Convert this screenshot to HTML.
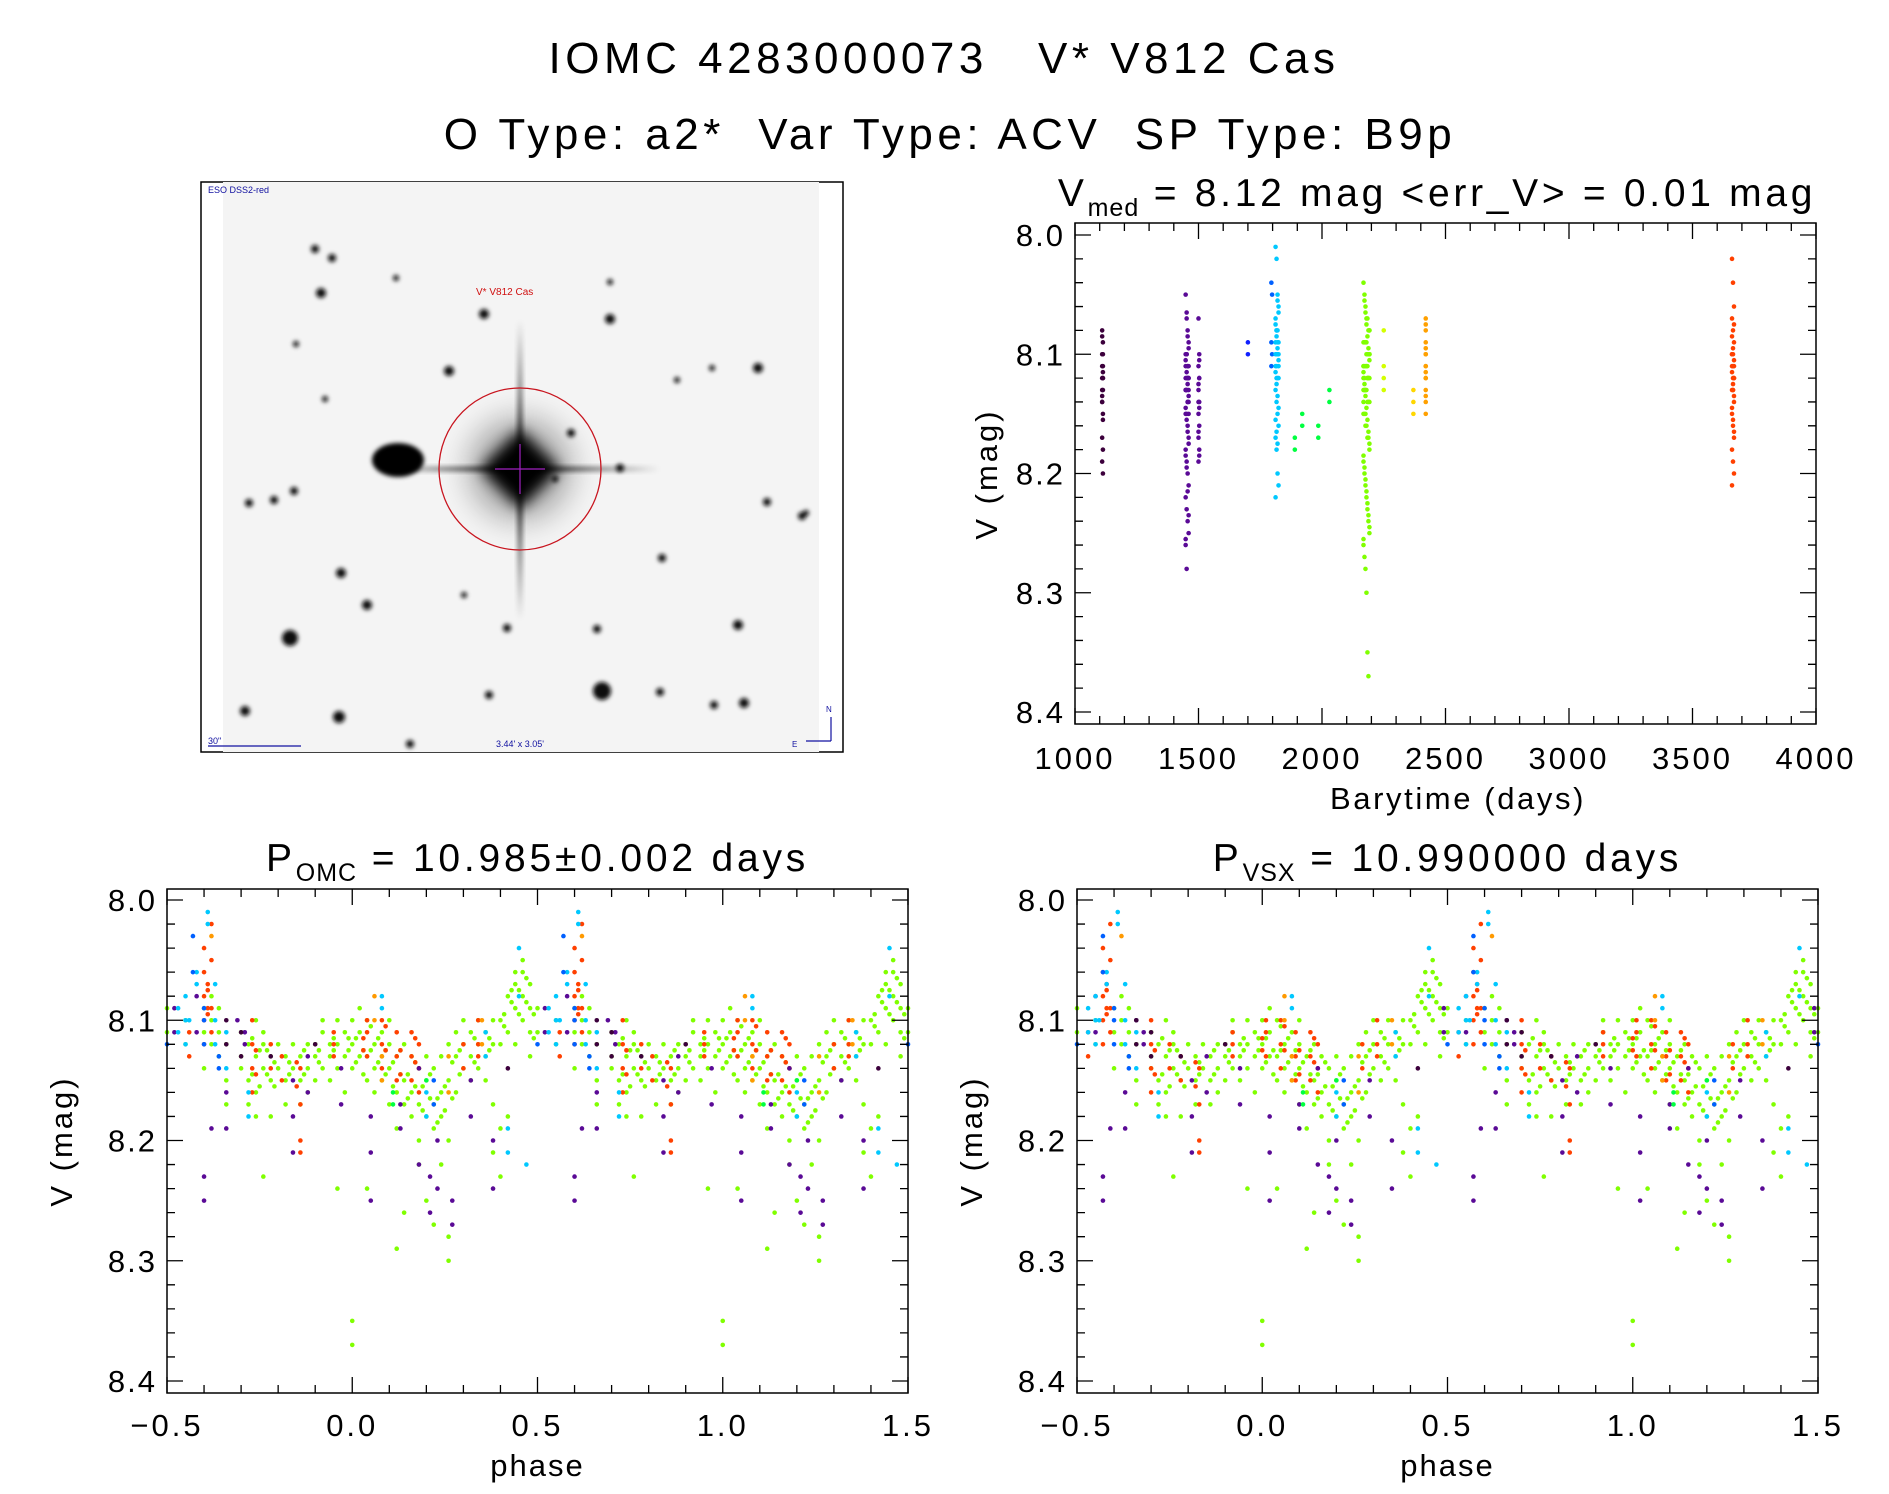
<!DOCTYPE html>
<html><head><meta charset="utf-8"><title>IOMC 4283000073 V* V812 Cas</title>
<style>
html,body{margin:0;padding:0;background:#fff;}
svg{display:block;font-family:"Liberation Sans",sans-serif;}
</style></head>
<body>
<svg id="fig" width="1889" height="1494" viewBox="0 0 1889 1494" xmlns="http://www.w3.org/2000/svg">
<defs>
  <filter id="blur2" x="-50%" y="-50%" width="200%" height="200%"><feGaussianBlur stdDeviation="2.2"/></filter>
  <filter id="blur6" x="-50%" y="-50%" width="200%" height="200%"><feGaussianBlur stdDeviation="7"/></filter>
  <filter id="blur14" x="-50%" y="-50%" width="200%" height="200%"><feGaussianBlur stdDeviation="16"/></filter>
  <linearGradient id="spikeH" x1="0" x2="1" y1="0" y2="0">
    <stop offset="0" stop-color="#000" stop-opacity="0"/><stop offset="0.5" stop-color="#000" stop-opacity="0.8"/><stop offset="1" stop-color="#000" stop-opacity="0"/>
  </linearGradient>
  <linearGradient id="spikeV" x1="0" x2="0" y1="0" y2="1">
    <stop offset="0" stop-color="#000" stop-opacity="0"/><stop offset="0.5" stop-color="#000" stop-opacity="0.8"/><stop offset="1" stop-color="#000" stop-opacity="0"/>
  </linearGradient>
  <clipPath id="imgclip"><rect x="223" y="182" width="596" height="570"/></clipPath>
</defs>

<text x="944" y="73" font-size="44" letter-spacing="4.5" text-anchor="middle" xml:space="preserve">IOMC 4283000073   V* V812 Cas</text>
<text x="950" y="149" font-size="44" letter-spacing="4.5" text-anchor="middle" xml:space="preserve">O Type: a2*  Var Type: ACV  SP Type: B9p</text>

<g id="finder">
  <rect x="201" y="182" width="642" height="570" fill="#fff" stroke="#000" stroke-width="1.5"/>
  <g clip-path="url(#imgclip)">
    <rect x="223" y="182" width="596" height="570" fill="#f4f4f4"/>
    <g id="stars" filter="url(#blur2)"></g>
    <ellipse cx="398" cy="460" rx="26" ry="17" fill="#000" filter="url(#blur2)"/>
    <circle cx="520" cy="469" r="50" fill="#000" opacity="0.35" filter="url(#blur14)"/>
    <rect x="380" y="466" width="280" height="6" fill="url(#spikeH)" filter="url(#blur2)"/>
    <rect x="517" y="320" width="6" height="300" fill="url(#spikeV)" filter="url(#blur2)"/>
    <rect x="492" y="441" width="56" height="56" transform="rotate(45 520 469)" fill="#000" filter="url(#blur6)"/>
    <circle cx="520" cy="469" r="81" fill="none" stroke="#c8141e" stroke-width="1.3"/>
    <line x1="495" y1="469" x2="545" y2="469" stroke="#a020c0" stroke-width="1.2"/>
    <line x1="520" y1="444" x2="520" y2="494" stroke="#a020c0" stroke-width="1.2"/>
  </g>
  <text x="208" y="193" font-size="9" fill="#1010a0">ESO DSS2-red</text>
  <text x="476" y="295" font-size="10" fill="#d01010">V* V812 Cas</text>
  <text x="208" y="744" font-size="9" fill="#1010a0">30"</text>
  <line x1="208" y1="746" x2="301" y2="746" stroke="#1010a0" stroke-width="1.2"/>
  <text x="520" y="747" font-size="9" fill="#1010a0" text-anchor="middle">3.44' x 3.05'</text>
  <line x1="831" y1="717" x2="831" y2="741" stroke="#1010a0" stroke-width="1.2"/>
  <line x1="806" y1="741" x2="831" y2="741" stroke="#1010a0" stroke-width="1.2"/>
  <text x="826" y="712" font-size="8" fill="#1010a0">N</text>
  <text x="792" y="747" font-size="8" fill="#1010a0">E</text>
</g>

<g id="lc"></g>
<g id="ph1"></g>
<g id="ph2"></g>
</svg>

<script>
// ---------- finder stars (image decoration) ----------
const starX = [321,315,332,484,610,449,758,294,341,290,602,245,339,660,744,738,489,767,620,802,367,507,597,410,274,249,396,610,662,464,714,296,325,677,571,712,555,806];
const starY = [293,249,258,314,319,371,368,491,573,638,691,711,717,692,703,625,695,502,468,516,605,628,629,744,500,503,278,282,558,595,705,344,399,380,433,368,479,513];
const starR = [5,4,4,5,5,5,5,4,5,8,9,5,6,4,5,5,4,4,4,4,5,4,4,4,4,4,3,3,4,3,4,3,3,3,4,3,3,3];

// ---------- light curve data (top-right) ----------
const seasonColors = ["#3c003c","#5a0a96","#5a0a96","#1020ff","#0060ff","#00c8ff","#00ff40","#80ff00","#d4ff00","#ffd700","#ffa000","#ff4000"];
const seasonTimes = [
  [1110,1113],
  [1448,1452,1456,1460],
  [1500,1503],
  [1700],
  [1795,1798],
  [1812,1816,1820,1824],
  [1890,1920,1985,2030],
  [2168,2172,2176,2180,2184,2188,2192],
  [2250],
  [2370],
  [2420],
  [3660,3664,3668]
];
const seasonMags = [
  [8.08,8.09,8.10,8.11,8.12,8.12,8.13,8.13,8.14,8.15,8.17,8.18,8.19,8.20,8.11,8.10,8.14,8.12,8.085,8.115,8.135,8.155],
  [8.05,8.07,8.08,8.09,8.10,8.10,8.11,8.11,8.12,8.12,8.12,8.13,8.13,8.13,8.14,8.14,8.15,8.15,8.16,8.17,8.18,8.19,8.20,8.21,8.22,8.23,8.24,8.25,8.26,8.28,8.11,8.12,8.13,8.10,8.14,8.12,8.11,8.13,8.12,8.15,8.105,8.115,8.125,8.135,8.145,8.155,8.165,8.175,8.185,8.195,8.215,8.235,8.255,8.065,8.085,8.095],
  [8.07,8.10,8.11,8.12,8.13,8.14,8.15,8.16,8.17,8.18,8.19,8.12,8.14,8.105,8.125,8.145,8.165,8.185],
  [8.09,8.10],
  [8.04,8.05,8.09,8.10,8.11],
  [8.01,8.02,8.05,8.06,8.07,8.08,8.08,8.09,8.09,8.10,8.10,8.10,8.11,8.11,8.12,8.12,8.13,8.14,8.15,8.16,8.17,8.18,8.20,8.21,8.22,8.08,8.09,8.11,8.10,8.12,8.055,8.065,8.075,8.085,8.095,8.105,8.115,8.125,8.135,8.145,8.155,8.165,8.175],
  [8.17,8.15,8.16,8.13,8.18,8.16,8.17,8.14],
  [8.04,8.05,8.06,8.07,8.07,8.08,8.08,8.09,8.09,8.09,8.10,8.10,8.10,8.10,8.11,8.11,8.11,8.11,8.12,8.12,8.12,8.12,8.13,8.13,8.13,8.14,8.14,8.14,8.15,8.15,8.16,8.16,8.17,8.17,8.18,8.19,8.20,8.21,8.22,8.23,8.24,8.25,8.26,8.27,8.28,8.30,8.35,8.37,8.10,8.11,8.12,8.13,8.09,8.11,8.12,8.10,8.14,8.13,8.15,8.11,8.12,8.10,8.08,8.13,8.055,8.065,8.075,8.085,8.095,8.105,8.115,8.125,8.135,8.145,8.155,8.165,8.175,8.185,8.195,8.205,8.215,8.225,8.235,8.245,8.255],
  [8.08,8.11,8.12,8.13],
  [8.13,8.14,8.15],
  [8.07,8.08,8.09,8.10,8.11,8.12,8.12,8.13,8.14,8.15,8.11,8.10,8.075,8.095,8.115,8.135],
  [8.02,8.04,8.06,8.07,8.08,8.09,8.10,8.10,8.11,8.11,8.12,8.12,8.13,8.13,8.14,8.15,8.16,8.17,8.18,8.19,8.20,8.21,8.11,8.12,8.10,8.13,8.075,8.085,8.095,8.105,8.115,8.125,8.135,8.145,8.155,8.165]
];
const lcXTicks = [1000,1500,2000,2500,3000,3500,4000];
const magTicks = [8.0,8.1,8.2,8.3,8.4];
const phaseTicks = [-0.5,0.0,0.5,1.0,1.5];
const phaseTickLabels = ["\u22120.5","0.0","0.5","1.0","1.5"];

// ---------- phase data: [phase, mag, mag, ...] per colour ----------
const phaseColors = ["#80ff00","#ff4000","#ff9900","#5a0a96","#00c8ff","#0060ff","#3c003c","#00ff40"];
const phaseLime = [[0.00,8.12,8.10,8.14,8.35,8.37],[0.02,8.09,8.13,8.11],[0.04,8.10,8.13,8.15,8.24],[0.06,8.12,8.14,8.16],[0.08,8.11,8.13,8.15],[0.10,8.12,8.10,8.14,8.17],[0.12,8.13,8.16,8.19,8.29],[0.14,8.12,8.15,8.17,8.26],[0.16,8.13,8.16,8.18],[0.18,8.14,8.17,8.20,8.22],[0.20,8.15,8.18,8.13,8.25],[0.22,8.14,8.17,8.19,8.27],[0.24,8.16,8.13,8.18,8.22],[0.26,8.15,8.12,8.20,8.28,8.30],[0.28,8.13,8.16,8.11],[0.30,8.12,8.14,8.10],[0.32,8.13,8.11,8.15],[0.34,8.12,8.14,8.10],[0.36,8.11,8.13,8.15],[0.38,8.12,8.10,8.17,8.21],[0.40,8.10,8.12,8.19,8.23],[0.42,8.08,8.11,8.18],[0.44,8.07,8.09,8.12,8.06],[0.46,8.06,8.08,8.10,8.05],[0.48,8.07,8.09,8.11,8.13],[0.50,8.09,8.11],[0.55,8.10,8.12],[0.60,8.09,8.11,8.14],[0.62,8.10,8.12,8.08],[0.64,8.09,8.13,8.11],[0.66,8.12,8.15,8.17],[0.70,8.11,8.14,8.13],[0.72,8.12,8.15,8.17],[0.74,8.10,8.13,8.16,8.18],[0.76,8.11,8.14,8.12,8.23],[0.78,8.13,8.15,8.18],[0.80,8.12,8.14],[0.82,8.13,8.15,8.17],[0.84,8.14,8.12],[0.86,8.15,8.13,8.17],[0.88,8.14,8.16,8.12],[0.90,8.12,8.15,8.13],[0.92,8.11,8.14,8.10],[0.94,8.12,8.13,8.15],[0.96,8.10,8.12,8.14,8.24],[0.98,8.11,8.13,8.16],[0.01,8.115,8.135],[0.03,8.125,8.145],[0.07,8.115,8.135],[0.15,8.145,8.165],[0.19,8.155,8.175],[0.23,8.165,8.185],[0.45,8.075,8.095],[0.47,8.085,8.065],[0.73,8.115,8.145],[0.75,8.125,8.155],[0.05,8.105,8.125],[0.09,8.125,8.145],[0.11,8.135,8.155],[0.13,8.125,8.145],[0.17,8.135,8.155],[0.21,8.145,8.165],[0.25,8.155,8.175],[0.27,8.135,8.165],[0.29,8.125,8.145],[0.33,8.115,8.135],[0.37,8.115,8.125],[0.41,8.095,8.105],[0.43,8.085,8.075],[0.49,8.095,8.115],[0.77,8.125,8.145],[0.79,8.135,8.155],[0.83,8.135,8.145],[0.87,8.145,8.125],[0.91,8.125,8.135],[0.95,8.115,8.125],[0.99,8.115,8.125]];
const phaseRed = [[0.04,8.11,8.13,8.10],[0.08,8.12,8.10,8.14],[0.12,8.13,8.15,8.11],[0.16,8.11,8.13,8.15],[0.18,8.12,8.14,8.16],[0.30,8.12,8.14],[0.34,8.10,8.12,8.13],[0.56,8.11,8.13],[0.60,8.04,8.06,8.08,8.10,8.12],[0.62,8.02,8.05,8.09,8.11],[0.73,8.12,8.14,8.10,8.16],[0.78,8.12,8.14],[0.86,8.14,8.17,8.20,8.21],[0.95,8.11,8.13,8.12],[0.61,8.07,8.09,8.075,8.095],[0.81,8.13,8.15],[0.03,8.115,8.125],[0.09,8.105,8.125],[0.13,8.125,8.145],[0.17,8.115,8.135],[0.74,8.125,8.145],[0.85,8.135,8.155]];
const phaseOrange = [[0.06,8.10,8.08],[0.26,8.13,8.16],[0.35,8.10,8.12],[0.08,8.13,8.15],[0.62,8.03]];
const phasePurple = [[0.05,8.18,8.21,8.25],[0.13,8.17,8.19],[0.18,8.14,8.22],[0.21,8.23,8.26],[0.23,8.20,8.24],[0.27,8.25,8.27],[0.32,8.15,8.18],[0.38,8.20,8.24],[0.52,8.11,8.09],[0.58,8.08,8.11],[0.60,8.23,8.25],[0.66,8.16,8.19],[0.71,8.11,8.12],[0.84,8.15,8.18,8.21],[0.88,8.13,8.16],[0.97,8.14,8.17],[0.62,8.19],[0.69,8.10]];
const phaseCyan = [[0.55,8.08,8.10,8.12],[0.58,8.06,8.07],[0.61,8.01,8.02],[0.63,8.07,8.10,8.12],[0.66,8.11,8.14],[0.72,8.16,8.18],[0.36,8.11,8.13],[0.45,8.04,8.08],[0.47,8.22],[0.20,8.16,8.18],[0.08,8.08,8.09],[0.42,8.19,8.21],[0.56,8.10],[0.53,8.09,8.11]];
const phaseBlue = [[0.57,8.03,8.06],[0.60,8.09,8.10,8.12],[0.64,8.14,8.13],[0.50,8.12],[0.22,8.15,8.17]];
const phaseDark = [[0.66,8.10,8.12],[0.70,8.11,8.13],[0.78,8.13],[0.90,8.12],[0.42,8.14]];
const phaseGreen = [[0.11,8.16,8.17],[0.20,8.15]];
const phaseSets = [phaseLime,phaseRed,phaseOrange,phasePurple,phaseCyan,phaseBlue,phaseDark,phaseGreen];

const NS = "http://www.w3.org/2000/svg";
function mk(tag, attrs, parent){const e=document.createElementNS(NS,tag);for(const k in attrs)e.setAttribute(k,attrs[k]);if(parent)parent.appendChild(e);return e;}

const sg = document.getElementById('stars');
starX.forEach((x,i)=>{
  const c = mk('circle',{cx:x,cy:starY[i],r:starR[i],fill:'#111'},sg);
  
  
});

function linScale(d0,d1,r0,r1){return v=>r0+(v-d0)*(r1-r0)/(d1-d0);}

function drawAxes(g, box, xs, ys, xMin, xMax, xMajor, xMinorStep, yMajor, yMinorStep, xLabels, xLabY){
  const frame = mk('rect',{x:box.x0,y:box.y0,width:box.x1-box.x0,height:box.y1-box.y0,fill:'none',stroke:'#000','stroke-width':1.5},g);
  
  
  let p='';
  const nx = Math.round((xMax-xMin)/xMinorStep);
  for(let i=0;i<=nx;i++){
    const v=xMin+i*xMinorStep; const x=xs(v);
    const isMaj = xMajor.some(m=>Math.abs(m-v)<1e-6);
    const L = isMaj?16:8;
    p+=`M${x},${box.y1}v${-L}M${x},${box.y0}v${L}`;
  }
  const y0=yMajor[0], yN=yMajor[yMajor.length-1];
  const ny = Math.round((yN-y0)/yMinorStep);
  for(let i=0;i<=ny;i++){
    const v=y0+i*yMinorStep; const y=ys(v);
    const isMaj = i%5===0;
    const L = isMaj?16:8;
    p+=`M${box.x0},${y}h${L}M${box.x1},${y}h${-L}`;
  }
  const t = mk('path',{d:p,stroke:'#000','stroke-width':1.3,fill:'none'},g);
  
  
  xMajor.forEach((v,i)=>{
    const tx = mk('text',{x:xs(v),y:xLabY,'font-size':31,'letter-spacing':3,'text-anchor':'middle'},g);
    tx.textContent = xLabels[i];
    
    
  });
  yMajor.forEach(v=>{
    const ty = mk('text',{x:box.x0-10,y:ys(v)+11,'font-size':31,'letter-spacing':2,'text-anchor':'end'},g);
    ty.textContent = v.toFixed(1);
    
    
  });
}

function yTitle(g,x,y){
  const t = mk('text',{x:x,y:y,'font-size':31,'letter-spacing':3,'text-anchor':'middle',transform:`rotate(-90 ${x} ${y})`},g);
  t.setAttribute('xml:space','preserve');
  t.textContent='V  (mag)';
  
  
}

function titleSub(g,x,y,main,sub,rest,ls){
  const t = mk('text',{x:x,y:y,'font-size':39,'letter-spacing':ls,'text-anchor':'middle'},g);
  t.setAttribute('xml:space','preserve');
  
  
  const a = mk('tspan',{},t); a.textContent=main;
  const b = mk('tspan',{'font-size':25,dy:10,'letter-spacing':1},t); b.textContent=sub;
  const c = mk('tspan',{dy:-10},t); c.textContent=rest;
}

// ---------- top-right light curve ----------
(function(){
  const g=document.getElementById('lc');
  const box={x0:1075,x1:1816,y0:223,y1:724};
  const xs=linScale(1000,4000,box.x0,box.x1);
  const ys=linScale(8.0,8.4,235,712);
  titleSub(g,1437,206,'V','med',' = 8.12 mag <err_V> = 0.01 mag',3.7);
  const pts = mk('g',{},g);
  
  
  seasonMags.forEach((mags,s)=>{
    const times=seasonTimes[s];
    mags.forEach((m,i)=>{
      const c=mk('circle',{cx:xs(times[i%times.length]),cy:ys(m),r:2.3,fill:seasonColors[s]},pts);
      
      
    });
  });
  drawAxes(g,box,xs,ys,1000,4000,lcXTicks,100,magTicks,0.02,lcXTicks.map(String),769);
  const xl=mk('text',{x:1458,y:809,'font-size':31,'letter-spacing':2.6,'text-anchor':'middle'},g);
  xl.setAttribute('xml:space','preserve');
  xl.textContent='Barytime  (days)';
  
  
  yTitle(g,997,474);
})();

// ---------- phase panels ----------
function phasePanel(id,x0,x1,titleMain,titleSub_,titleRest,shift){
  const g=document.getElementById(id);
  const box={x0:x0,x1:x1,y0:889,y1:1393};
  const xs=linScale(-0.5,1.5,x0,x1);
  const ys=linScale(8.0,8.4,900,1381);
  titleSub(g,(x0+x1)/2,871,titleMain,titleSub_,titleRest,3.8);
  const pts=mk('g',{},g);
  
  
  phaseSets.forEach((set,ci)=>{
    set.forEach(row=>{
      const ph=row[0]+(ci===1||ci===3?shift:0);
      for(let k=1;k<row.length;k++){
        [-1,0,1].forEach(o=>{
          const p=ph+o;
          if(p<-0.5||p>1.5) return;
          const c=mk('circle',{cx:xs(p),cy:ys(row[k]),r:2.3,fill:phaseColors[ci]},pts);
          
          
        });
      }
    });
  });
  drawAxes(g,box,xs,ys,-0.5,1.5,phaseTicks,0.1,magTicks,0.02,phaseTickLabels,1436);
  const xl=mk('text',{x:(x0+x1)/2,y:1476,'font-size':31,'letter-spacing':2,'text-anchor':'middle'},g);
  xl.textContent='phase';
  
  
  yTitle(g,x0-95,1141);
}
phasePanel('ph1',167,908,'P','OMC',' = 10.985\u00b10.002 days',0);
phasePanel('ph2',1077,1818,'P','VSX',' = 10.990000 days',-0.03);
</script>
</body></html>
